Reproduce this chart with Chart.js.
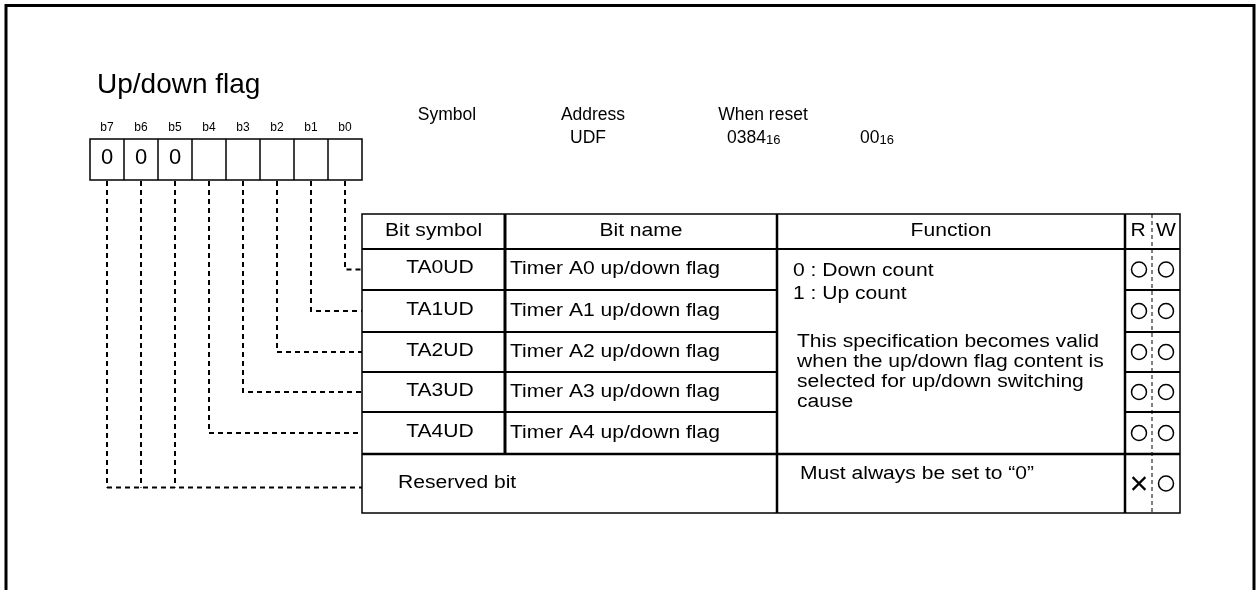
<!DOCTYPE html>
<html>
<head>
<meta charset="utf-8">
<script src="https://cdn.jsdelivr.net/npm/chart.js@4.4.0/dist/chart.umd.min.js"></script>
<style>
  html, body { margin: 0; padding: 0; background: #fff; }
  canvas { display: block; }
</style>
</head>
<body>
<canvas id="regChart" width="1259" height="590"></canvas>
<script>
// register content
const titleText = 'Up/down flag';
const bitLabels = ['b7', 'b6', 'b5', 'b4', 'b3', 'b2', 'b1', 'b0'];
const bitValues = ['0', '0', '0', '', '', '', '', ''];
const infoHeaders = ['Symbol', 'Address', 'When reset'];
const infoValues = ['UDF', '0384', '00'];
const headerLabels = ['Bit symbol', 'Bit name', 'Function'];
const bitSymbols = ['TA0UD', 'TA1UD', 'TA2UD', 'TA3UD', 'TA4UD'];
const bitNames = ['Timer A0 up/down flag', 'Timer A1 up/down flag', 'Timer A2 up/down flag',
                  'Timer A3 up/down flag', 'Timer A4 up/down flag'];
const countLines = ['0 : Down count', '1 : Up count'];
const specLines = ['This specification becomes valid', 'when the up/down flag content is',
                   'selected for up/down switching', 'cause'];
const reservedName = 'Reserved bit';
const reservedFunction = 'Must always be set to \u201c0\u201d';
const reservedBits = [7, 6, 5];
const readMarks = ['O', 'O', 'O', 'O', 'O', 'X'];
const writeMarks = ['O', 'O', 'O', 'O', 'O', 'O'];

// layout
const FONT = 'Arial, "Liberation Sans", sans-serif';
const TXT = 18, TXT_SX = 1.17;   // table text is a little wider than plain Arial
const boxLeft = 90, boxW = 34, boxTop = 139, boxBottom = 180;
const colEdges = [362, 505, 777, 1125, 1180];
const rwMid = 1152;
const rowEdges = [214, 249, 290, 332, 372, 412, 454, 513];

const bitCenterX = bit => boxLeft + (7 - bit) * boxW + boxW / 2;
const rowCenterY = r => (rowEdges[r + 1] + rowEdges[r + 2]) / 2;
const reservedLineY = rowCenterY(5) + 4;

// dashed connectors from each bit down to its row
const connectorSets = [];
bitSymbols.forEach((s, i) => {
    const x = bitCenterX(i);
    connectorSets.push([{x: x, y: boxBottom + 1}, {x: x, y: rowCenterY(i)}, {x: colEdges[0], y: rowCenterY(i)}]);
});
reservedBits.forEach(b => {
    connectorSets.push([{x: bitCenterX(b), y: boxBottom + 1}, {x: bitCenterX(b), y: reservedLineY}]);
});
connectorSets.push([{x: bitCenterX(7), y: reservedLineY}, {x: colEdges[0], y: reservedLineY}]);

// R/W marks
const rCol = (colEdges[3] + rwMid) / 2 + 0.5;
const wCol = (rwMid + colEdges[4]) / 2;
const circlePts = [], crossPts = [];
readMarks.forEach((m, r) => (m === 'O' ? circlePts : crossPts).push({x: rCol, y: rowCenterY(r)}));
writeMarks.forEach((m, r) => (m === 'O' ? circlePts : crossPts).push({x: wCol, y: rowCenterY(r)}));

const datasets = connectorSets.map(pts => ({
    data: pts,
    showLine: true,
    borderColor: '#000',
    borderWidth: 2,
    borderDash: [5, 4],
    pointRadius: 0,
    clip: false
}));
datasets.push({
    data: circlePts, pointStyle: 'circle', pointRadius: 7.5,
    borderColor: '#000', borderWidth: 1.5, backgroundColor: '#fff', clip: false
});
datasets.push({
    data: crossPts, pointStyle: 'crossRot', pointRadius: 9,
    borderColor: '#000', borderWidth: 2.2, clip: false
});

const diagramPlugin = {
    id: 'registerDiagram',
    beforeDatasetsDraw(chart) {
        const ctx = chart.ctx;
        const px = v => chart.scales.x.getPixelForValue(v);
        const py = v => chart.scales.y.getPixelForValue(v);
        const line = (x1, y1, x2, y2, w) => {
            ctx.lineWidth = w;
            ctx.beginPath();
            ctx.moveTo(px(x1), py(y1));
            ctx.lineTo(px(x2), py(y2));
            ctx.stroke();
        };
        const rect = (x1, y1, x2, y2, w) => {
            ctx.lineWidth = w;
            ctx.strokeRect(px(x1), py(y1), px(x2) - px(x1), py(y2) - py(y1));
        };
        const text = (t, x, y, size, align, sx) => {
            ctx.save();
            ctx.font = size + 'px ' + FONT;
            ctx.textAlign = align || 'left';
            ctx.textBaseline = 'middle';
            ctx.translate(px(x), py(y));
            ctx.scale(sx || 1, 1);
            ctx.fillText(t, 0, 0);
            ctx.restore();
        };
        const ttext = (t, x, y, align) => text(t, x, y, TXT, align, TXT_SX);
        ctx.save();
        ctx.strokeStyle = '#000';
        ctx.fillStyle = '#000';

        // outer frame (open at the bottom)
        ctx.lineWidth = 3;
        ctx.beginPath();
        ctx.moveTo(px(6), py(600));
        ctx.lineTo(px(6), py(5.5));
        ctx.lineTo(px(1254), py(5.5));
        ctx.lineTo(px(1254), py(600));
        ctx.stroke();

        // title
        ctx.font = '28px ' + FONT;
        ctx.textAlign = 'left';
        ctx.textBaseline = 'alphabetic';
        ctx.fillText(titleText, px(97), py(93));

        // bit boxes
        bitLabels.forEach((lab, i) => {
            const x0 = boxLeft + i * boxW;
            text(lab, x0 + boxW / 2, 128, 12, 'center');
            if (bitValues[i]) text(bitValues[i], x0 + boxW / 2, 158, 22, 'center');
        });
        rect(boxLeft, boxTop, boxLeft + boxW * 8, boxBottom, 1.5);
        for (let i = 1; i < 8; i++) line(boxLeft + i * boxW, boxTop, boxLeft + i * boxW, boxBottom, 1.5);

        // register info
        text(infoHeaders[0], 447, 115, 17.5, 'center');
        text(infoHeaders[1], 593, 115, 17.5, 'center');
        text(infoHeaders[2], 763, 115, 17.5, 'center');
        text(infoValues[0], 588, 138, 17.5, 'center');
        const sub = (main, x) => {
            ctx.font = '17.5px ' + FONT;
            const w = ctx.measureText(main).width;
            text(main, x, 138, 17.5, 'left');
            text('16', x + w, 140, 13, 'left');
        };
        sub(infoValues[1], 727);
        sub(infoValues[2], 860);

        // table grid
        rect(colEdges[0], rowEdges[0], colEdges[4], rowEdges[7], 1.5);
        line(colEdges[0], rowEdges[1], colEdges[4], rowEdges[1], 2);
        for (let r = 2; r <= 5; r++) {
            line(colEdges[0], rowEdges[r], colEdges[2], rowEdges[r], 2);
            line(colEdges[3], rowEdges[r], colEdges[4], rowEdges[r], 2);
        }
        line(colEdges[0], rowEdges[6], colEdges[4], rowEdges[6], 2.5);
        line(colEdges[1], rowEdges[0], colEdges[1], rowEdges[6], 3);
        line(colEdges[2], rowEdges[0], colEdges[2], rowEdges[7], 2.5);
        line(colEdges[3], rowEdges[0], colEdges[3], rowEdges[7], 2.5);
        ctx.setLineDash([4, 3]);
        line(rwMid, rowEdges[0], rwMid, rowEdges[7], 1);
        ctx.setLineDash([]);

        // header
        const hy = (rowEdges[0] + rowEdges[1]) / 2;
        headerLabels.forEach((h, i) => ttext(h, (colEdges[i] + colEdges[i + 1]) / 2, hy, 'center'));
        ttext('R', 1138, hy, 'center');
        ttext('W', 1166, hy, 'center');

        // body rows
        bitSymbols.forEach((s, i) => {
            const y = rowCenterY(i) - 1;
            ttext(s, 440, y, 'center');
            ttext(bitNames[i], 510, y + 1, 'left');
        });
        countLines.forEach((t, i) => ttext(t, 793, 271 + i * 23, 'left'));
        specLines.forEach((t, i) => ttext(t, 797, 342 + i * 20, 'left'));
        ttext(reservedName, 398, 483, 'left');
        ttext(reservedFunction, 800, 474, 'left');

        ctx.restore();
    }
};

new Chart(document.getElementById('regChart'), {
    type: 'scatter',
    data: { datasets: datasets },
    options: {
        responsive: false,
        animation: false,
        layout: { padding: 0, autoPadding: false },
        plugins: { legend: { display: false }, tooltip: { enabled: false } },
        scales: {
            x: { type: 'linear', min: 0, max: 1259, display: false },
            y: { type: 'linear', min: 0, max: 590, reverse: true, display: false }
        }
    },
    plugins: [diagramPlugin]
});
</script>
</body>
</html>
